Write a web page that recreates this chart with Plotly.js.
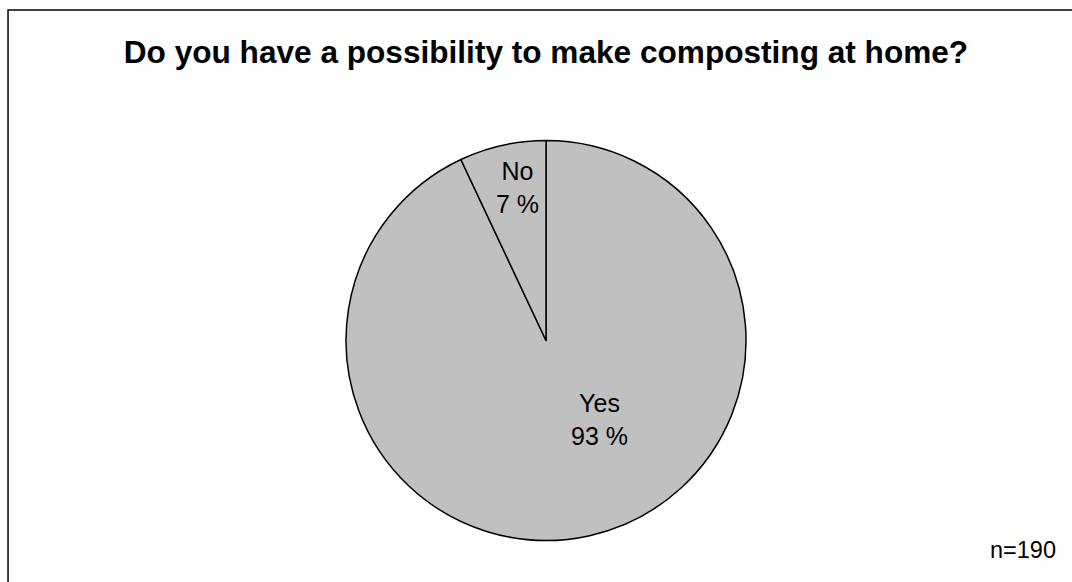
<!DOCTYPE html>
<html>
<head>
<meta charset="utf-8">
<script src="https://cdn.plot.ly/plotly-3.0.1.min.js"></script>
<style>html,body{margin:0;padding:0;background:#fff;}#chart{width:1072px;height:582px;}</style>
</head>
<body>
<div id="chart"></div>
<script>
var categories = ["Yes", "No"];
var percents = [93, 7];
var sampleNote = "n=190";
var titleText = "Do you have a possibility to make composting at home?";

// label placement (layout only, paper coordinates)
var labelPlacement = [{x: 0.5597, y: 0.2784}, {x: 0.4832, y: 0.6778}];

var FONT = "Liberation Sans, Arial, sans-serif";

var data = [{
  type: "pie",
  labels: categories,
  values: percents,
  textinfo: "none",
  sort: false,
  direction: "clockwise",
  rotation: 0,
  hoverinfo: "none",
  marker: {colors: ["#c0c0c0", "#c0c0c0"], line: {color: "#000000", width: 1.5}},
  domain: {x: [0.3228, 0.6959], y: [0.0704, 0.7595]},
  showlegend: false
}];

var annotations = categories.map(function(c, i){
  return {text: c + "<br>" + percents[i] + " %", xref: "paper", yref: "paper",
          x: labelPlacement[i].x, y: labelPlacement[i].y, xanchor: "center", yanchor: "middle",
          showarrow: false, font: {family: FONT, size: 25, color: "#000000"}};
});
annotations.push({text: sampleNote, xref: "paper", yref: "paper", x: 0.987, y: 0.055, xanchor: "right", yanchor: "middle",
                 showarrow: false, font: {family: FONT, size: 23.5, color: "#000000"}});

var layout = {
  width: 1072, height: 582,
  margin: {l: 0, r: 0, t: 0, b: 0},
  paper_bgcolor: "#ffffff",
  plot_bgcolor: "#ffffff",
  title: {text: "<b>" + titleText + "</b>", x: 0.5093, xanchor: "center", y: 0.911, yanchor: "middle",
          font: {family: FONT, size: 31.6, color: "#000000"}},
  shapes: [{type: "rect", xref: "paper", yref: "paper", x0: 0.0075, x1: 1.01, y0: -0.05, y1: 0.983,
            line: {color: "#000000", width: 1.5}, fillcolor: "rgba(0,0,0,0)"}],
  annotations: annotations
};

Plotly.newPlot("chart", data, layout, {displayModeBar: false, staticPlot: true});
</script>
</body>
</html>
